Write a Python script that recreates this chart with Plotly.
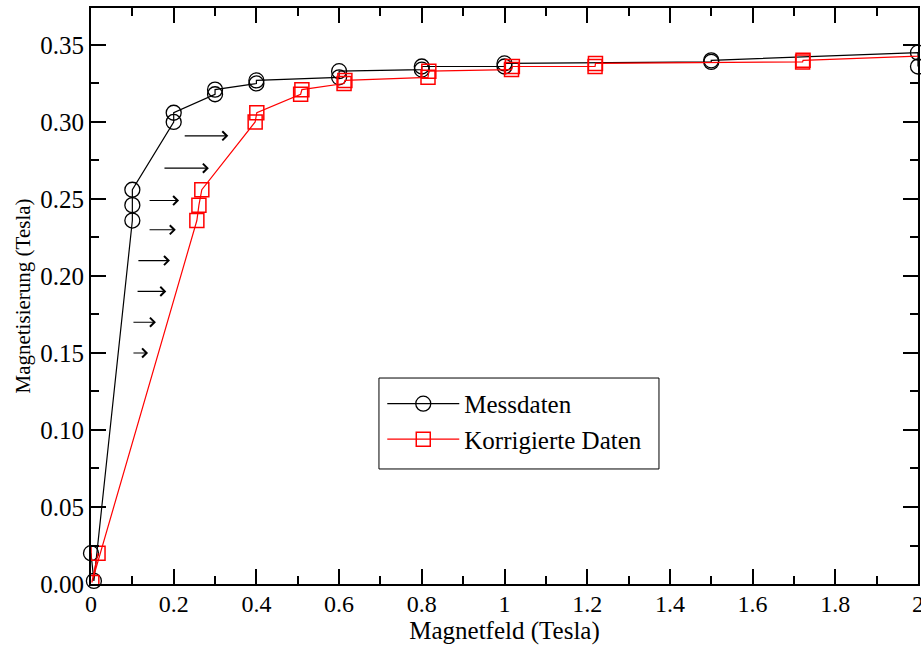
import plotly.graph_objects as go

# Messdaten (measured)
mess_x = [0.0, 0.007, 0.1, 0.1, 0.1, 0.2, 0.2, 0.3, 0.3, 0.4, 0.4, 0.6, 0.6, 0.8, 0.8, 1.0, 1.0, 1.5, 1.5, 2.0, 2.0]
mess_y = [0.020, 0.002, 0.236, 0.246, 0.256, 0.300, 0.306, 0.318, 0.321, 0.325, 0.327, 0.329, 0.333, 0.334, 0.336, 0.336, 0.338, 0.339, 0.340, 0.345, 0.336]

# Korrigierte Daten (corrected)
korr_x = [0.017, 0.002, 0.256, 0.261, 0.268, 0.397, 0.401, 0.507, 0.510, 0.612, 0.614, 0.815, 0.817, 1.017, 1.019, 1.219, 1.220, 1.721, 1.722, 2.222, 2.219]
korr_y = [0.020, 0.001, 0.236, 0.246, 0.256, 0.300, 0.306, 0.318, 0.321, 0.325, 0.327, 0.329, 0.333, 0.334, 0.336, 0.336, 0.338, 0.339, 0.340, 0.345, 0.336]

# arrows (tail x, head x, y)
arrow_tail_x = [0.223, 0.174, 0.138, 0.138, 0.111, 0.109, 0.099, 0.099]
arrow_head_x = [0.332, 0.285, 0.213, 0.205, 0.191, 0.182, 0.157, 0.138]
arrow_y = [0.291, 0.270, 0.249, 0.230, 0.210, 0.190, 0.170, 0.150]

x_ticks = [0, 0.2, 0.4, 0.6, 0.8, 1.0, 1.2, 1.4, 1.6, 1.8, 2.0]
x_ticklabels = ["0", "0.2", "0.4", "0.6", "0.8", "1", "1.2", "1.4", "1.6", "1.8", "2"]

FONT = "Liberation Serif"

fig = go.Figure()
fig.add_trace(go.Scatter(
    x=mess_x, y=mess_y, mode="lines+markers", name="Messdaten",
    line=dict(color="black", width=1.2),
    marker=dict(symbol="circle-open", size=15, color="black", line=dict(width=1.3)),
    cliponaxis=False,
))
fig.add_trace(go.Scatter(
    x=korr_x, y=korr_y, mode="lines+markers", name="Korrigierte Daten",
    line=dict(color="#ff0000", width=1.2),
    marker=dict(symbol="square-open", size=14, color="#ff0000", line=dict(width=1.5)),
    cliponaxis=True,
))

for tx, hx, yy in zip(arrow_tail_x, arrow_head_x, arrow_y):
    fig.add_annotation(
        x=hx, y=yy, ax=tx, ay=yy, xref="x", yref="y", axref="x", ayref="y",
        text="", showarrow=True, arrowhead=4, arrowsize=1.6, arrowwidth=1.1,
        arrowcolor="black",
    )

# legend frame (drawn as a box like the reference)
fig.add_shape(type="rect", xref="paper", yref="paper",
              x0=0.3482, x1=0.6868, y0=0.1997, y1=0.3576,
              line=dict(color="black", width=1), fillcolor="white", layer="above")

axis_common = dict(
    showgrid=False, zeroline=False, showline=True, linecolor="black", linewidth=2,
    mirror="allticks", ticks="inside", ticklen=15, tickwidth=1.5, tickcolor="black",
)

fig.update_xaxes(
    range=[0, 2], tickmode="array", tickvals=x_ticks, ticktext=x_ticklabels,
    ticklabeloverflow="allow", automargin=False, ticklabelstandoff=-3,
    tickfont=dict(family=FONT, size=24, color="black"),
    minor=dict(ticks="inside", ticklen=8, dtick=0.1, tickwidth=1.5, tickcolor="black"),
    title=dict(text="Magnetfeld (Tesla)", font=dict(family=FONT, size=25, color="black"), standoff=7),
    **axis_common,
)
fig.update_yaxes(
    range=[0, 0.374], dtick=0.05, tick0=0, tickformat=".2f", automargin=False,
    tickfont=dict(family=FONT, size=25, color="black"),
    minor=dict(ticks="inside", ticklen=8, dtick=0.025, tickwidth=1.5, tickcolor="black"),
    title=dict(text="Magnetisierung (Tesla)", font=dict(family=FONT, size=21, color="black"), standoff=4),
    **axis_common,
)

fig.update_layout(
    width=921, height=645,
    margin=dict(l=91, r=3, t=8, b=61),
    paper_bgcolor="white", plot_bgcolor="white",
    font=dict(family=FONT, color="black"),
    legend=dict(
        x=0.3482 + 0.004, y=0.3576 - 0.005, xanchor="left", yanchor="top",
        bgcolor="rgba(0,0,0,0)", borderwidth=0,
        font=dict(family=FONT, size=25, color="black"),
        itemwidth=72, tracegroupgap=4,
    ),
    showlegend=True,
)

fig.write_html("out.html")
